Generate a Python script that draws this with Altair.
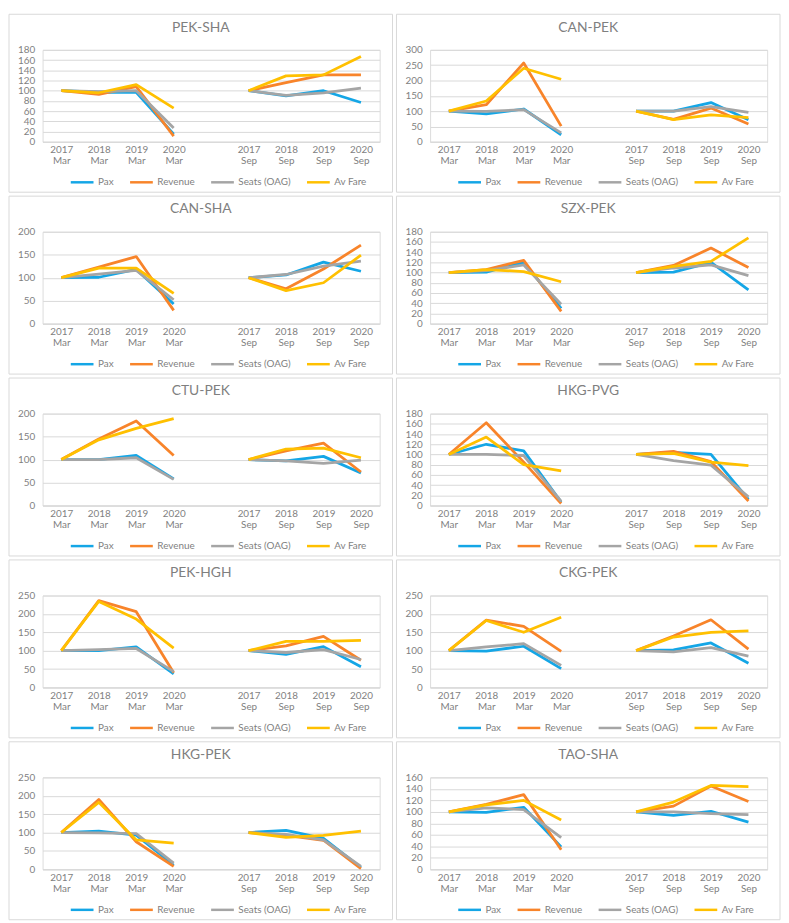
import altair as alt
import pandas as pd

# ---- data ----
X_DOMAIN = ["2017 Mar", "2018 Mar", "2019 Mar", "2020 Mar", "gap",
            "2017 Sep", "2018 Sep", "2019 Sep", "2020 Sep"]
X_POINTS = ["2017 Mar", "2018 Mar", "2019 Mar", "2020 Mar",
            "2017 Sep", "2018 Sep", "2019 Sep", "2020 Sep"]
SERIES = ["Pax", "Revenue", "Seats (OAG)", "Av Fare"]
COLORS = ["#14A6E6", "#F8842A", "#A5A5A5", "#FFC000"]

ROUTES = ["PEK-SHA", "CAN-PEK", "CAN-SHA", "SZX-PEK", "CTU-PEK",
          "HKG-PVG", "PEK-HGH", "CKG-PEK", "HKG-PEK", "TAO-SHA"]
Y_MAX = [180, 300, 200, 180, 200, 180, 250, 250, 250, 160]
Y_STEP = [20, 50, 50, 20, 50, 20, 50, 50, 50, 20]

PEK_SHA = {
    "Pax": [100, 97, 97, 15, 100, 90, 100, 77],
    "Revenue": [100, 93, 108, 11, 100, 116, 131, 131],
    "Seats (OAG)": [100, 98, 100, 27, 100, 91, 96, 105],
    "Av Fare": [100, 96, 112, 66, 100, 129, 131, 167],
}
CAN_PEK = {
    "Pax": [100, 91, 107, 23, 100, 100, 128, 72],
    "Revenue": [100, 121, 257, 51, 100, 73, 110, 58],
    "Seats (OAG)": [100, 99, 105, 29, 100, 100, 115, 96],
    "Av Fare": [100, 133, 240, 204, 100, 72, 88, 79],
}
CAN_SHA = {
    "Pax": [100, 101, 118, 43, 100, 106, 134, 114],
    "Revenue": [100, 123, 146, 29, 100, 76, 119, 171],
    "Seats (OAG)": [100, 108, 116, 52, 100, 107, 125, 136],
    "Av Fare": [100, 121, 121, 66, 100, 72, 89, 149],
}
SZX_PEK = {
    "Pax": [100, 101, 120, 30, 100, 101, 120, 66],
    "Revenue": [100, 106, 124, 24, 100, 114, 148, 110],
    "Seats (OAG)": [100, 104, 115, 38, 100, 109, 115, 94],
    "Av Fare": [100, 106, 102, 82, 100, 112, 122, 168],
}
CTU_PEK = {
    "Pax": [100, 100, 109, 58, 100, 97, 107, 71],
    "Revenue": [100, 145, 184, 109, 100, 119, 136, 73],
    "Seats (OAG)": [100, 100, 104, 57, 100, 97, 92, 99],
    "Av Fare": [100, 143, 168, 189, 100, 123, 125, 104],
}
HKG_PVG = {
    "Pax": [100, 120, 107, 7, 100, 104, 100, 12],
    "Revenue": [100, 162, 85, 4, 100, 106, 86, 9],
    "Seats (OAG)": [100, 100, 98, 8, 100, 88, 79, 17],
    "Av Fare": [100, 134, 80, 68, 100, 102, 85, 78],
}
PEK_HGH = {
    "Pax": [100, 100, 110, 37, 100, 90, 111, 56],
    "Revenue": [100, 236, 206, 40, 100, 113, 139, 74],
    "Seats (OAG)": [100, 103, 106, 43, 100, 95, 103, 76],
    "Av Fare": [100, 234, 186, 107, 100, 125, 125, 128],
}
CKG_PEK = {
    "Pax": [100, 99, 112, 51, 100, 102, 121, 66],
    "Revenue": [100, 183, 166, 98, 100, 140, 184, 104],
    "Seats (OAG)": [100, 110, 119, 60, 100, 97, 108, 85],
    "Av Fare": [100, 182, 150, 191, 100, 137, 150, 154],
}
HKG_PEK = {
    "Pax": [100, 104, 93, 11, 100, 106, 84, 5],
    "Revenue": [100, 190, 75, 8, 100, 92, 79, 2],
    "Seats (OAG)": [100, 99, 97, 17, 100, 95, 80, 8],
    "Av Fare": [100, 182, 80, 71, 100, 87, 92, 104],
}
TAO_SHA = {
    "Pax": [100, 99, 108, 39, 100, 94, 101, 82],
    "Revenue": [100, 113, 130, 34, 100, 110, 145, 118],
    "Seats (OAG)": [100, 107, 104, 55, 100, 100, 97, 95],
    "Av Fare": [100, 112, 120, 86, 100, 117, 146, 144],
}
ROUTE_DATA = [PEK_SHA, CAN_PEK, CAN_SHA, SZX_PEK, CTU_PEK,
              HKG_PVG, PEK_HGH, CKG_PEK, HKG_PEK, TAO_SHA]

# ---- styling ----
FONT = "Lato"
TEXT = "#7f7f7f"
GRID = "#d9d9d9"
W, H = 341, 93          # plot area
LEFT, TOP = 34, 36      # plot offset inside the panel frame
PW, PH = 388, 180       # panel frame


def panel(name, data, ymax, ystep):
    rows = []
    for s in SERIES:
        for i, v in enumerate(data[s]):
            rows.append({"x": X_POINTS[i], "v": v, "series": s,
                         "seg": "Mar" if i < 4 else "Sep"})
    df = pd.DataFrame(rows)

    frame = alt.Chart(pd.DataFrame({"k": [0]})).mark_rect(
        filled=False, stroke=GRID, strokeWidth=1
    ).encode(
        x=alt.value(-LEFT), x2=alt.value(PW - LEFT),
        y=alt.value(-TOP), y2=alt.value(PH - TOP),
    )

    lines = alt.Chart(df).mark_line(strokeWidth=2.8, strokeJoin="round").encode(
        x=alt.X("x:N",
                scale=alt.Scale(type="point", domain=X_DOMAIN, padding=0.5),
                axis=alt.Axis(title=None, labelAngle=0, ticks=False,
                              domainColor=GRID, grid=False,
                              labelExpr="datum.value == 'gap' ? '' : split(datum.value, ' ')",
                              labelColor=TEXT, labelFont=FONT, labelFontSize=10,
                              labelPadding=3, labelLineHeight=11,
                              labelOverlap=False)),
        y=alt.Y("v:Q",
                scale=alt.Scale(domain=[0, ymax], nice=False, zero=True),
                axis=alt.Axis(title=None, values=list(range(0, ymax + 1, ystep)),
                              domain=False, ticks=False, gridColor=GRID,
                              labelColor=TEXT, labelFont=FONT, labelFontSize=10,
                              labelPadding=8)),
        color=alt.Color("series:N",
                        scale=alt.Scale(domain=SERIES, range=COLORS),
                        legend=alt.Legend(title=None, orient="none",
                                          legendX=27, legendY=121,
                                          direction="horizontal",
                                          symbolType="stroke", symbolSize=529,
                                          symbolStrokeWidth=2.5,
                                          labelFont=FONT, labelFontSize=10,
                                          labelColor=TEXT, labelOffset=3,
                                          columnPadding=11, padding=0)),
        detail="seg:N",
    )

    return alt.layer(frame, lines).properties(
        width=W, height=H,
        title=alt.TitleParams(name, font=FONT, fontSize=14, fontWeight="normal",
                              color=TEXT, anchor="middle", frame="bounds",
                              offset=-21),
    )


panels = [panel(ROUTES[i], ROUTE_DATA[i], Y_MAX[i], Y_STEP[i]) for i in range(10)]

rows = [
    alt.hconcat(panels[2 * r], panels[2 * r + 1], spacing=2)
    .resolve_scale(color="independent").resolve_legend(color="independent")
    for r in range(5)
]

chart = alt.vconcat(*rows, spacing=2).resolve_scale(
    color="independent").resolve_legend(color="independent").properties(
    padding=0
).configure_view(stroke=None).configure(background="white")

chart.save("out.html", embed_options={"renderer": "svg", "actions": False})
